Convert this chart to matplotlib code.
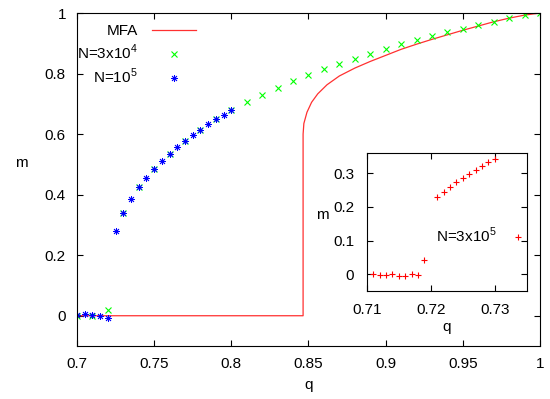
import matplotlib
matplotlib.use("Agg")
import matplotlib.pyplot as plt
import numpy as np

plt.rcParams['font.family'] = ['Liberation Sans', 'DejaVu Sans']
plt.rcParams['mathtext.fontset'] = 'custom'
plt.rcParams['mathtext.rm'] = 'Liberation Sans'

# mean field curve
q_mfa = [0.70, 0.8465, 0.8465, 0.847, 0.849, 0.852, 0.856, 0.862, 0.870, 0.880,
         0.890, 0.900, 0.910, 0.920, 0.930, 0.940, 0.950, 0.960, 0.970, 0.980,
         0.990, 1.000]
m_mfa = [0.0, 0.0, 0.60, 0.635, 0.672, 0.705, 0.733, 0.763, 0.792, 0.818,
         0.840, 0.860, 0.880, 0.897, 0.913, 0.928, 0.943, 0.957, 0.971, 0.983,
         0.993, 1.000]

# N = 3x10^4
q_n4 = [0.70, 0.71, 0.72, 0.73, 0.74, 0.75, 0.76, 0.77, 0.78, 0.79, 0.80,
        0.81, 0.82, 0.83, 0.84, 0.85, 0.86, 0.87, 0.88, 0.89, 0.90,
        0.91, 0.92, 0.93, 0.94, 0.95, 0.96, 0.97, 0.98, 0.99, 1.00]
m_n4 = [0.0, -0.002, 0.019, 0.341, 0.424, 0.484, 0.535, 0.578, 0.615, 0.649, 0.679,
        0.705, 0.729, 0.753, 0.776, 0.795, 0.814, 0.833, 0.849, 0.866, 0.881,
        0.897, 0.910, 0.923, 0.936, 0.948, 0.960, 0.971, 0.983, 0.993, 1.0]

# N = 10^5
q_n5 = [0.700, 0.705, 0.710, 0.715, 0.720, 0.725, 0.730, 0.735, 0.740, 0.745,
        0.750, 0.755, 0.760, 0.765, 0.770, 0.775, 0.780, 0.785, 0.790, 0.795, 0.800]
m_n5 = [0.001, 0.007, 0.003, 0.000, -0.009, 0.279, 0.341, 0.386, 0.424, 0.455,
        0.484, 0.512, 0.535, 0.558, 0.578, 0.597, 0.615, 0.633, 0.649, 0.663, 0.679]

# inset, N = 3x10^5
q_n53 = [0.711, 0.712, 0.713, 0.714, 0.715, 0.716, 0.717, 0.718, 0.719,
         0.721, 0.722, 0.723, 0.724, 0.725, 0.726, 0.727, 0.728, 0.729, 0.730]
m_n53 = [0.0, -0.001, -0.003, 0.001, -0.005, -0.004, 0.001, -0.003, 0.041,
         0.228, 0.245, 0.259, 0.273, 0.286, 0.298, 0.311, 0.322, 0.332, 0.342]

main_xticks = [0.7, 0.75, 0.8, 0.85, 0.9, 0.95, 1.0]
main_yticks = [0, 0.2, 0.4, 0.6, 0.8, 1.0]
ins_xticks = [0.71, 0.72, 0.73]
ins_yticks = [0, 0.1, 0.2, 0.3]

fs = 11

def fmt(v):
    return '%g' % v

fig = plt.figure(figsize=(5.5, 3.99), dpi=100)
ax = fig.add_axes([0.14, 0.1328, 0.8418, 0.8346])

ax.plot(q_mfa, m_mfa, color='#ff3030', lw=0.9, label='MFA')
ax.plot(q_n4, m_n4, ls='none', marker='x', ms=5, mew=0.8, color='#00ff00',
        label=r'N=3x10$^4$')
ax.plot(q_n5, m_n5, ls='none', marker=(8, 2, 0), ms=5, mew=0.6, color='#0000ff',
        label=r'N=10$^5$')

ax.set_xlim(0.7, 1.0)
ax.set_ylim(-0.1, 1.0)
ax.set_xticks(main_xticks)
ax.set_xticklabels([fmt(v) for v in main_xticks])
ax.set_yticks(main_yticks)
ax.set_yticklabels([fmt(v) for v in main_yticks])
ax.tick_params(direction='in', top=True, right=True, length=4, width=0.8,
               labelsize=fs, pad=8)
ax.set_xlabel('q', fontsize=fs)
ax.set_ylabel('m', fontsize=fs, rotation=0)
ax.xaxis.set_label_coords(0.5, -0.095)
ax.yaxis.set_label_coords(-0.12, 0.53)
ax.legend(loc='upper left', bbox_to_anchor=(0.0, 0.966), frameon=False,
          markerfirst=False, fontsize=fs, handlelength=2.9, handletextpad=0.95,
          labelspacing=0.3, borderpad=0, borderaxespad=0)

ins = fig.add_axes([0.667, 0.2707, 0.291, 0.3458])
ins.plot(q_n53, m_n53, ls='none', marker='+', ms=5, mew=0.8, color='#ff0000',
         label=r'N=3x10$^5$')
ins.set_xlim(0.71, 0.735)
ins.set_ylim(-0.05, 0.36)
ins.set_xticks(ins_xticks)
ins.set_xticklabels([fmt(v) for v in ins_xticks])
ins.set_yticks(ins_yticks)
ins.set_yticklabels([fmt(v) for v in ins_yticks])
ins.tick_params(direction='in', top=True, right=True, length=4, width=0.8,
                labelsize=fs, pad=9)
ins.set_xlabel('q', fontsize=fs, labelpad=2)
ins.set_ylabel('m', fontsize=fs, rotation=0)
ins.yaxis.set_label_coords(-0.28, 0.5)
ins.legend(loc='center left', bbox_to_anchor=(0.43, 0.40), frameon=False,
           markerfirst=False, fontsize=fs, handlelength=2.0, handletextpad=0.4,
           borderpad=0, borderaxespad=0)

fig.savefig('out.png', dpi=100)
